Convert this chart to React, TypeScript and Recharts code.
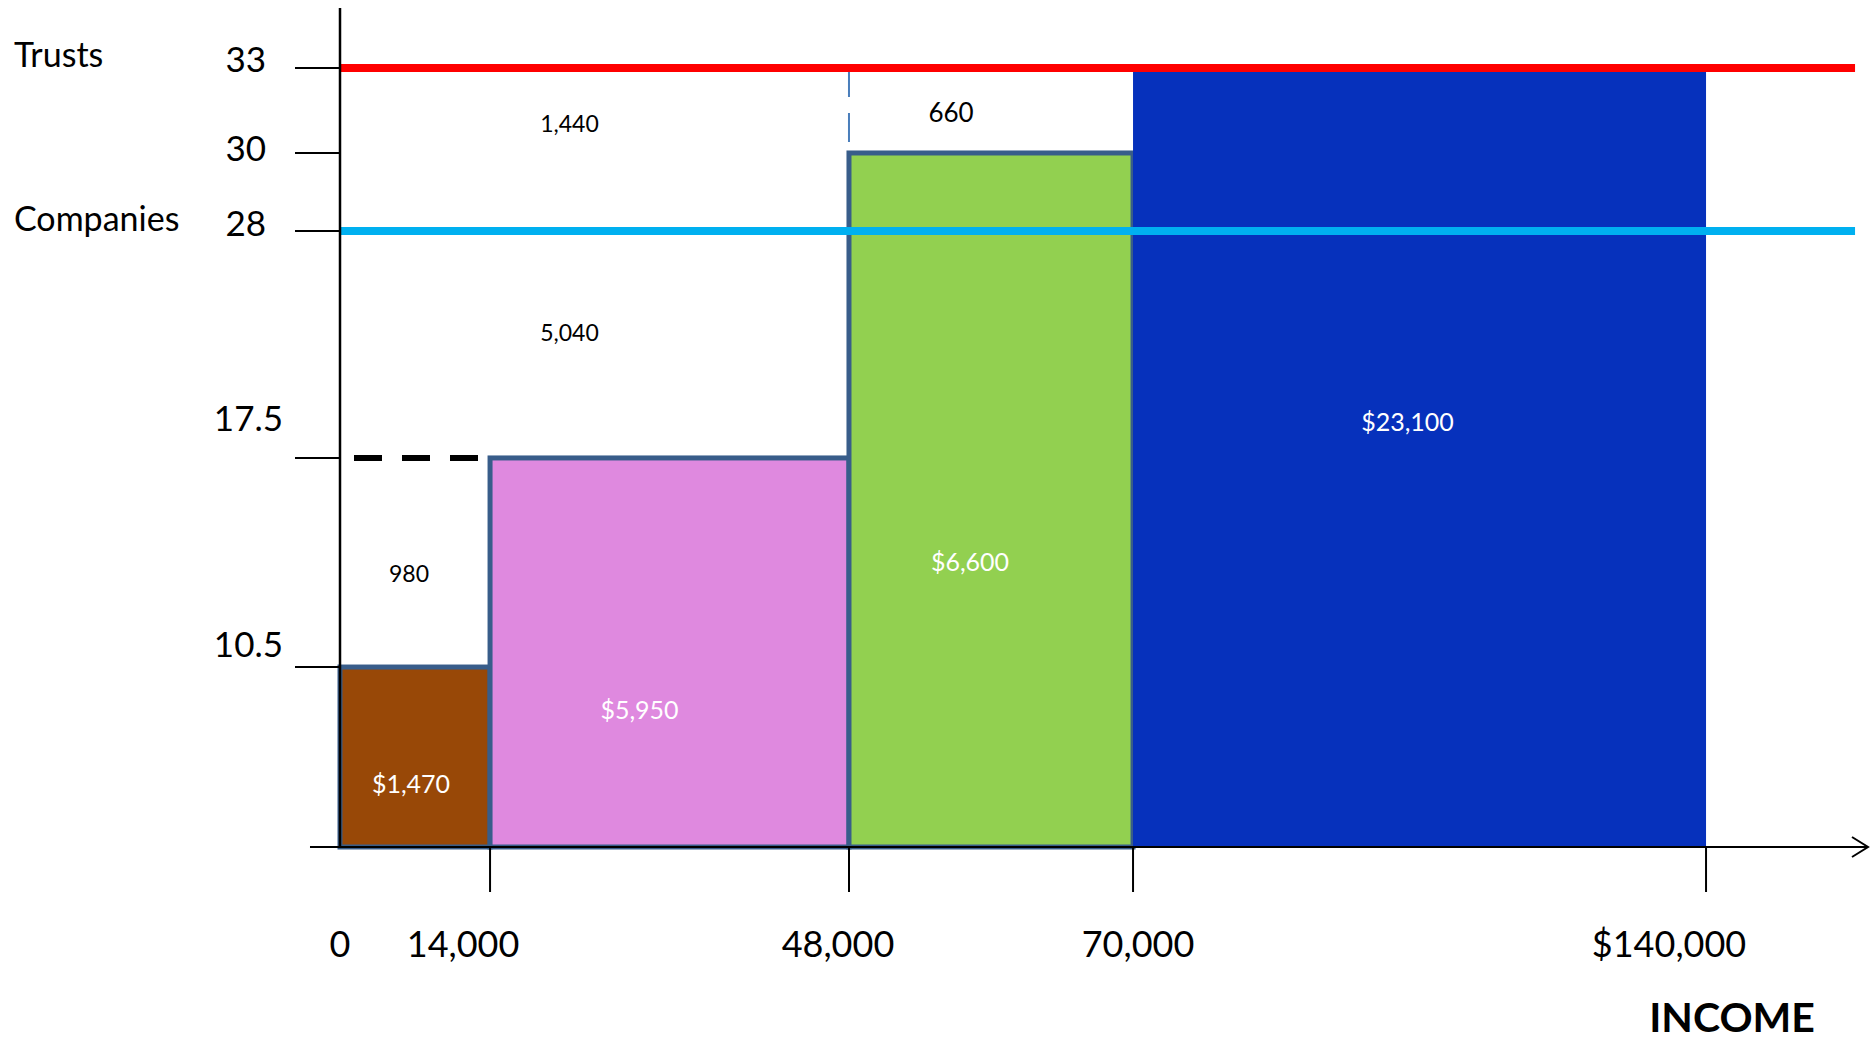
import React from "react";
import { ComposedChart, XAxis, YAxis, ReferenceArea, ReferenceLine } from "recharts";

// Tax brackets: income from/to ($), marginal rate (%), tax paid in the bracket
const bracketFrom = [0, 14000, 48000, 70000];
const bracketTo = [14000, 48000, 70000, 140000];
const bracketRate = [10.5, 17.5, 30, 33];
const bracketTax = ["$1,470", "$5,950", "$6,600", "$23,100"];

// White gaps: extra tax a flat/higher rate would charge over the same income
const gapFrom = [0, 0, 0, 48000];
const gapTo = [14000, 48000, 48000, 70000];
const gapLow = [10.5, 17.5, 28, 30];
const gapHigh = [17.5, 28, 33, 33];
const gapTax = ["980", "5,040", "1,440", "660"];

// Flat rates
const flatNames = ["Trusts", "Companies"];
const flatRates = [33, 28];

const xTicks = [0, 14000, 48000, 70000, 140000];
const xTickLabels = ["0", "14,000", "48,000", "70,000", "$140,000"];
const yTicks = [10.5, 17.5, 28, 30, 33];
const yTickLabels = ["10.5", "17.5", "28", "30", "33"];

// ---- layout / styling ----
const W = 1871;
const H = 1043;
const FONT = "Lato, 'Noto Sans', sans-serif";

// the drawing is not to scale, so both axes use a piecewise-linear scale
const X_STOPS = [0, 14000, 48000, 70000, 140000, 160000];
const X_FRAC = [0, 0.0982, 0.3331, 0.519, 0.894, 1];
const Y_STOPS = [0, 10.5, 17.5, 28, 30, 33, 35.4];
const Y_FRAC = [0, 0.2145, 0.4637, 0.7342, 0.8272, 0.9285, 1];
const X_LINE_END = 158400;
const X_AXIS_START = -2800;

const bracketFill = ["#984807", "#DF89DF", "#92D050", "#0631BC"];
const bracketStroke = ["#385D8A", "#385D8A", "#385D8A", "none"];
const flatColor = ["#FF0000", "#00B0F0"];

const taxNudge = [[-4, 27], [-30, 58], [-21, 62], [-12, -35]];
const gapNudge = [[-6, 11], [-25, -12], [-25, -26], [-40, 2]];
const gapFont = [23, 23, 23, 26];
const yLabelDx = [-57, -57, -74, -74, -74];
const yLabelDy = [-23, -39, -8, -4, -8];
const xLabelDx = [0, -27, -11, 5, -37];

function makePiecewiseScale(stops: number[], fracs: number[]): any {
  let dom: number[] = [stops[0], stops[stops.length - 1]];
  let rng: number[] = [0, 1];
  const scale: any = (v: number) => {
    let i = 0;
    while (i < stops.length - 2 && v > stops[i + 1]) i++;
    const t = (v - stops[i]) / (stops[i + 1] - stops[i]);
    const f = fracs[i] + t * (fracs[i + 1] - fracs[i]);
    return rng[0] + f * (rng[1] - rng[0]);
  };
  scale.domain = (d?: number[]) => {
    if (d === undefined) return dom;
    dom = [...d];
    return scale;
  };
  scale.range = (r?: number[]) => {
    if (r === undefined) return rng;
    rng = [...r];
    return scale;
  };
  scale.copy = () => makePiecewiseScale(stops, fracs).domain(dom).range(rng);
  scale.ticks = () => stops.slice();
  scale.clamp = () => scale;
  scale.invert = (px: number) => {
    const f = (px - rng[0]) / (rng[1] - rng[0]);
    let i = 0;
    while (i < fracs.length - 2 && f > fracs[i + 1]) i++;
    const t = (f - fracs[i]) / (fracs[i + 1] - fracs[i]);
    return stops[i] + t * (stops[i + 1] - stops[i]);
  };
  return scale;
}

const xScale = makePiecewiseScale(X_STOPS, X_FRAC);
const yScale = makePiecewiseScale(Y_STOPS, Y_FRAC);

function Band(props: any) {
  const { x, y, width, height, fill, stroke, strokeWidth, text, color, fontSize, nudge } = props;
  const cx = x + width / 2 + nudge[0];
  const cy = y + height / 2 + nudge[1];
  return (
    <g>
      <rect x={x} y={y} width={width} height={height} fill={fill} stroke={stroke} strokeWidth={strokeWidth} />
      <text x={cx} y={cy + 0.36 * fontSize} textAnchor="middle" fill={color} fontSize={fontSize} fontFamily={FONT}>
        {text}
      </text>
    </g>
  );
}

function XTick(props: any) {
  const { x, y, payload, index } = props;
  const i = xTicks.indexOf(payload.value);
  return (
    <g>
      {payload.value > 0 && <line x1={x} y1={y} x2={x} y2={y + 45} stroke="#000" strokeWidth={2} />}
      <text x={x + xLabelDx[i]} y={y + 97 + 13} textAnchor="middle" fontSize={36} fontFamily={FONT} fill="#000">
        {xTickLabels[i >= 0 ? i : index]}
      </text>
    </g>
  );
}

function YTick(props: any) {
  const { x, y, payload } = props;
  const i = yTicks.indexOf(payload.value);
  return (
    <g>
      <line x1={x - 45} y1={y} x2={x} y2={y} stroke="#000" strokeWidth={2} />
      <text x={x + yLabelDx[i]} y={y + yLabelDy[i] + 12.5} textAnchor="end" fontSize={35} fontFamily={FONT} fill="#000">
        {yTickLabels[i]}
      </text>
    </g>
  );
}

function IncomeLabel(props: any) {
  const vb = props.viewBox || { x: 340, y: 847, width: 1528, height: 196 };
  return (
    <text x={vb.x + vb.width - 136} y={vb.y + 185} textAnchor="middle" fontSize={41} fontWeight="bold" fontFamily={FONT} fill="#000">
      INCOME
    </text>
  );
}

export default function App() {
  return (
    <div style={{ position: "absolute", left: 0, top: 0, width: W, height: H, background: "#fff" }}>
      <ComposedChart width={W} height={H} margin={{ top: 8, right: 3, bottom: 0, left: 0 }} style={{ fontFamily: FONT }}>
        <XAxis
          type="number"
          domain={[X_STOPS[0], X_STOPS[X_STOPS.length - 1]]}
          allowDataOverflow
          scale={xScale}
          ticks={xTicks}
          interval={0}
          height={196}
          axisLine={false}
          tickLine={false}
          tickSize={0}
          tickMargin={0}
          tick={<XTick />}
          label={(p: any) => <IncomeLabel {...p} />}
        />
        <YAxis
          type="number"
          domain={[Y_STOPS[0], Y_STOPS[Y_STOPS.length - 1]]}
          allowDataOverflow
          scale={yScale}
          ticks={yTicks}
          interval={0}
          width={340}
          axisLine={{ stroke: "#000", strokeWidth: 2.5 }}
          tickLine={false}
          tickSize={0}
          tickMargin={0}
          tick={<YTick />}
        />

        {/* x axis with arrow */}
        <ReferenceLine
          segment={[{ x: X_AXIS_START, y: 0 }, { x: X_STOPS[X_STOPS.length - 1], y: 0 }]}
          ifOverflow="visible"
          stroke="#000"
          strokeWidth={2}
          shape={(p: any) => (
            <g>
              <line x1={p.x1} y1={p.y1} x2={p.x2} y2={p.y2} stroke="#000" strokeWidth={2} />
              <path d={`M${p.x2 - 16},${p.y2 - 10} L${p.x2},${p.y2} L${p.x2 - 16},${p.y2 + 10}`} fill="none" stroke="#000" strokeWidth={2} />
            </g>
          )}
        />

        {bracketFrom.map((from, i) => (
          <ReferenceArea
            key={`b${i}`}
            x1={from}
            x2={bracketTo[i]}
            y1={0}
            y2={bracketRate[i]}
            fill={bracketFill[i]}
            fillOpacity={1}
            stroke={bracketStroke[i]}
            strokeWidth={5}
            ifOverflow="visible"
            shape={(p: any) => (
              <Band
                {...p}
                fill={bracketFill[i]}
                stroke={bracketStroke[i]}
                strokeWidth={5}
                text={bracketTax[i]}
                color="#FFFFFF"
                fontSize={25}
                nudge={taxNudge[i]}
              />
            )}
          />
        ))}

        {gapFrom.map((from, i) => (
          <ReferenceArea
            key={`g${i}`}
            x1={from}
            x2={gapTo[i]}
            y1={gapLow[i]}
            y2={gapHigh[i]}
            ifOverflow="visible"
            shape={(p: any) => (
              <Band {...p} fill="none" stroke="none" strokeWidth={0} text={gapTax[i]} color="#000" fontSize={gapFont[i]} nudge={gapNudge[i]} />
            )}
          />
        ))}

        {/* 17.5% extended back over the first bracket */}
        <ReferenceLine
          segment={[{ x: bracketFrom[0], y: bracketRate[1] }, { x: bracketTo[0], y: bracketRate[1] }]}
          stroke="#000"
          strokeWidth={6}
          strokeDasharray="28 20"
          strokeDashoffset={34}
          ifOverflow="visible"
        />
        {/* step from 30 to 33 at 48,000 */}
        <ReferenceLine
          segment={[{ x: bracketFrom[2], y: bracketRate[3] }, { x: bracketFrom[2], y: bracketRate[2] }]}
          stroke="#4A7EBB"
          strokeWidth={2}
          strokeDasharray="29 16"
          ifOverflow="visible"
        />

        {flatRates.map((rate, i) => (
          <ReferenceLine
            key={`f${i}`}
            segment={[{ x: 0, y: rate }, { x: X_LINE_END, y: rate }]}
            ifOverflow="visible"
            stroke={flatColor[i]}
            strokeWidth={8}
            shape={(p: any) => (
              <g>
                <line x1={p.x1} y1={p.y1} x2={p.x2} y2={p.y2} stroke={flatColor[i]} strokeWidth={8} />
                <text x={Math.min(p.x1, p.x2) - 326} y={p.y1 - (i === 0 ? 1 : 0)} fontSize={34} fontFamily={FONT} fill="#000">
                  {flatNames[i]}
                </text>
              </g>
            )}
          />
        ))}
      </ComposedChart>
    </div>
  );
}
